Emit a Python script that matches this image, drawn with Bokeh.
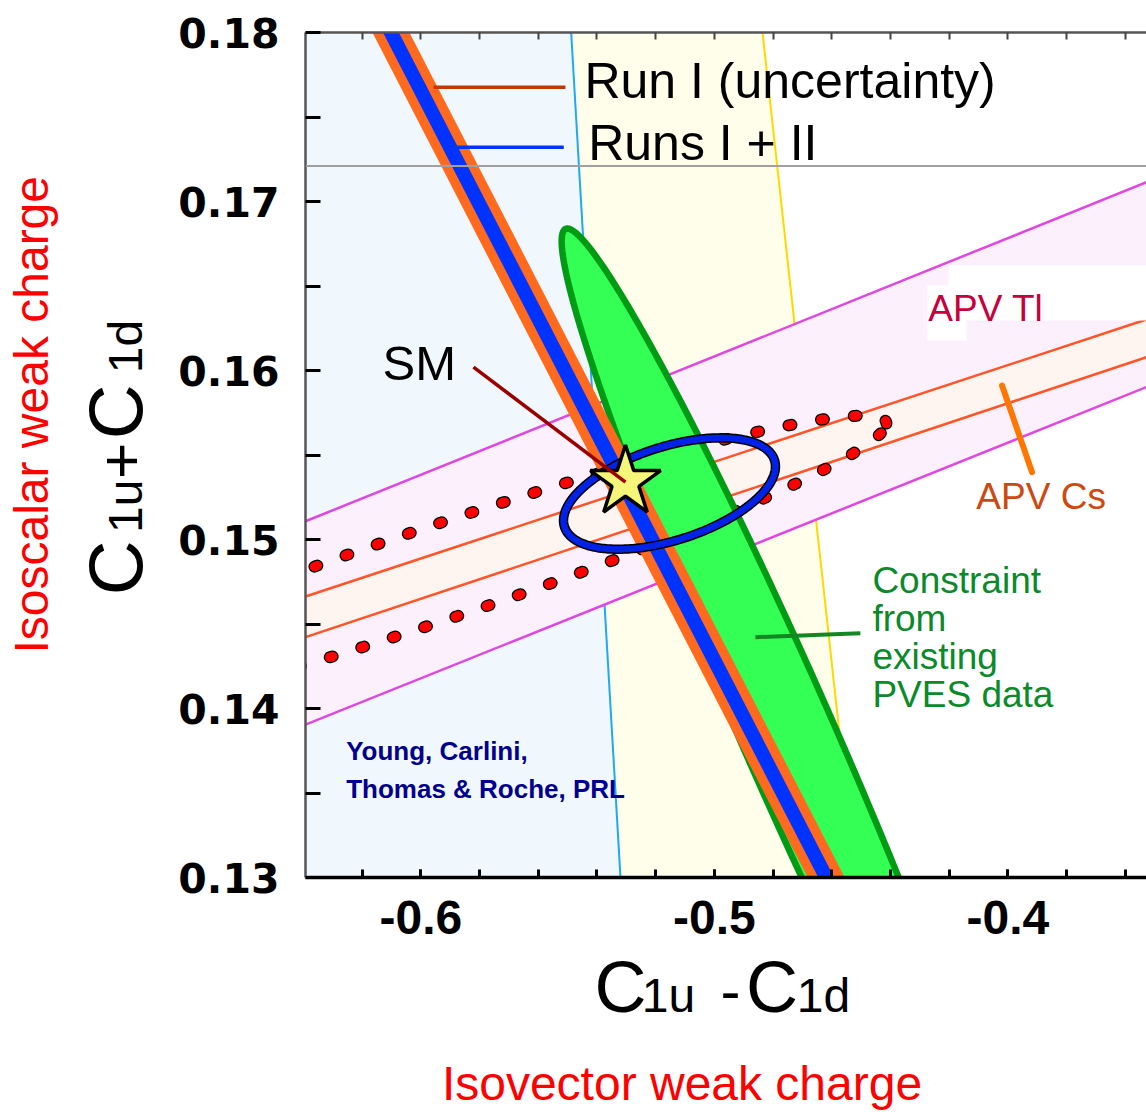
import numpy as np
from bokeh.plotting import figure
from bokeh.models import Range1d, FixedTicker, LinearAxis, Label, Span
from bokeh.layouts import column, row
from bokeh.embed import file_html
from bokeh.resources import INLINE

# ---------------- data ----------------
x_lo, x_hi = -0.6393, -0.3528
y_lo, y_hi = 0.13, 0.18

x_major = [-0.6, -0.5, -0.4]
x_major_labels = {-0.6: "-0.6", -0.5: "-0.5", -0.4: "-0.4"}
x_minor = [-0.62, -0.60, -0.58, -0.56, -0.54, -0.52, -0.50, -0.48, -0.46, -0.44, -0.42, -0.40, -0.38, -0.36]
y_major = [0.13, 0.14, 0.15, 0.16, 0.17, 0.18]
y_minor = [0.135, 0.145, 0.155, 0.165, 0.175]

# boundaries of shaded regions
cyan_x = [-0.5488, -0.5320]
cyan_y = [0.18, 0.13]
yellow_x = [-0.4836, -0.4520]
yellow_y = [0.18, 0.13]
gray_y = 0.1721

# APV bands (values at the left / right edge)
band_x = [-0.6393, -0.3528]
tl_upper = [0.15108, 0.17114]
tl_lower = [0.13905, 0.15902]
cs_upper = [0.14663, 0.16302]
cs_lower = [0.14422, 0.16079]

# Qweak bands (centre line and half widths in x)
qweak_x = [-0.6102, -0.4619]
qweak_y = [0.18, 0.13]
run1_half = 0.0063
run12_half = 0.0027

# ellipses: centre, conjugate semi-diameters
pves_center = (-0.4748, 0.1384)
pves_u = (-0.0753, 0.0300)
pves_v = (0.0172, 0.0)

comb_center = (-0.5153, 0.15272)
comb_u = (0.0361, 0.0016)
comb_v = (0.0, 0.00288)

apv_center = (-0.5947, 0.14798)
apv_u = (0.1533, 0.00888)
apv_v = (0.0, 0.00293)

# standard model point
sm_x, sm_y = -0.5303, 0.1534

PX_PER_Y = 16900.0  # screen pixels per y unit (for baseline nudges)


def ellipse_pts(c, u, v, n=240):
    t = np.linspace(0, 2 * np.pi, n)
    xs = c[0] + u[0] * np.cos(t) + v[0] * np.sin(t)
    ys = c[1] + u[1] * np.cos(t) + v[1] * np.sin(t)
    return xs, ys


MAIN_H = 947

# ---------------- main figure ----------------
p = figure(width=986, height=MAIN_H,
           x_range=Range1d(x_lo, x_hi), y_range=Range1d(y_lo, y_hi),
           output_backend="svg", toolbar_location=None,
           min_border_left=145, min_border_right=0,
           min_border_top=32, min_border_bottom=MAIN_H - 877)
p.xgrid.visible = False
p.ygrid.visible = False
p.outline_line_color = None
p.background_fill_color = "white"
p.border_fill_color = "white"

# background regions
p.patch([x_lo, cyan_x[0], cyan_x[1], x_lo], [y_hi, cyan_y[0], cyan_y[1], y_lo],
        fill_color="#F0F8FE", line_color=None)
p.patch([cyan_x[0], yellow_x[0], yellow_x[1], cyan_x[1]],
        [cyan_y[0], yellow_y[0], yellow_y[1], cyan_y[1]],
        fill_color="#FFFEEB", line_color=None)
p.line(cyan_x, cyan_y, line_color="#1EAAF0", line_width=2)
p.line(yellow_x, yellow_y, line_color="#FFD800", line_width=2)
p.add_layout(Span(location=gray_y, dimension="width", line_color="#A0A0A0", line_width=2))

# APV Tl band
p.patch(band_x + band_x[::-1], tl_upper + tl_lower[::-1], fill_color="#FDF0FD", line_color=None)
p.line(band_x, tl_upper, line_color="#E146E1", line_width=2.5)
p.line(band_x, tl_lower, line_color="#E146E1", line_width=2.5)
# APV Cs band
p.patch(band_x + band_x[::-1], cs_upper + cs_lower[::-1], fill_color="#FFF5F0", line_color=None)
p.line(band_x, cs_upper, line_color="#FF5528", line_width=2.5)
p.line(band_x, cs_lower, line_color="#FF5528", line_width=2.5)

# white box behind APV Tl label
p.quad(left=[-0.42029, -0.42745], right=[x_hi, -0.41416],
       top=[0.16621, 0.16503], bottom=[0.16296, 0.16178],
       fill_color="white", line_color=None)

# APV combined dotted ellipse
ax, ay = ellipse_pts(apv_center, apv_u, apv_v, 400)
p.line(ax, ay, line_color="black", line_width=12, line_dash="3 30", line_cap="round")
p.line(ax, ay, line_color="#FF0000", line_width=9.5, line_dash="3 30", line_cap="round")

# PVES ellipse
gx, gy = ellipse_pts(pves_center, pves_u, pves_v, 300)
p.patch(gx, gy, fill_color="#33FF55", line_color="#009B14", line_width=6.5)


# Qweak bands
def band(half):
    return ([qweak_x[0] - half, qweak_x[0] + half, qweak_x[1] + half, qweak_x[1] - half],
            [qweak_y[0], qweak_y[0], qweak_y[1], qweak_y[1]])


bx, by = band(run1_half)
p.patch(bx, by, fill_color="#FF6A1E", line_color=None)
bx, by = band(run12_half)
p.patch(bx, by, fill_color="#0033FF", line_color=None)

# combined ellipse
cx, cy = ellipse_pts(comb_center, comb_u, comb_v, 300)
p.line(cx, cy, line_color="black", line_width=9.5)
p.line(cx, cy, line_color="#0022E6", line_width=6.5)

# SM star and pointer
p.scatter([sm_x], [sm_y], marker="star", size=74, fill_color="#F5F57A",
          line_color="black", line_width=3.5)
p.line([-0.58208, sm_x], [0.160195, sm_y], line_color="#990000", line_width=3.5)

# legend lines
p.line([-0.59570, -0.55074], [0.176763, 0.176763], line_color="#C03A00", line_width=3.5)
p.line([-0.58763, -0.55132], [0.173213, 0.173213], line_color="#0033FF", line_width=3.5)

# pointers
p.line([-0.40201, -0.39179], [0.159112, 0.153982], line_color="#FF7700", line_width=6, line_cap="round")
p.line([-0.48603, -0.45027], [0.144219, 0.144456], line_color="#118822", line_width=4)


def txt(fig, x, y, text, size, color="black", font="Liberation Sans", style="normal",
        angle=0.0, align="left"):
    fig.add_layout(Label(x=x, y=y, text=text, text_font=font, text_font_size=f"{size}px",
                         text_font_style=style, text_color=color, angle=angle,
                         text_align=align, text_baseline="alphabetic"))


def mtxt(x, yb, text, size, **kw):
    # yb is the baseline in data units; nudge for the renderer's baseline offset
    txt(p, x, yb + 0.36 * size / PX_PER_Y, text, size, **kw)


mtxt(-0.54427, 0.176077, "Run I (uncertainty)", 50)
mtxt(-0.54301, 0.172426, "Runs I + II", 50)
mtxt(-0.61307, 0.159408, "SM", 49)
mtxt(-0.42711, 0.162858, "APV Tl", 37, color="#C8003C")
mtxt(-0.41076, 0.151757, "APV Cs", 37, color="#CC4A10")
for line, yb in zip(["Constraint", "from", "existing", "PVES data"],
                    [0.146787, 0.144527, 0.142278, 0.140059]):
    mtxt(-0.44618, yb, line, 37, color="#0A8A2A")
mtxt(-0.62544, 0.136923, "Young, Carlini,", 26, color="#00008C", style="bold")
mtxt(-0.62544, 0.134657, "Thomas & Roche, PRL", 26, color="#00008C", style="bold")

# ---------------- axes ----------------
xa = p.xaxis[0]
xa.ticker = FixedTicker(ticks=x_major, minor_ticks=x_minor)
xa.major_label_overrides = x_major_labels
xa.axis_line_color = "black"
xa.axis_line_width = 3.5
xa.major_tick_in = 8
xa.major_tick_out = 0
xa.minor_tick_in = 8
xa.minor_tick_out = 0
xa.major_tick_line_width = 3
xa.minor_tick_line_width = 3
xa.major_label_text_font = "Liberation Sans"
xa.major_label_text_font_style = "bold"
xa.major_label_text_font_size = "48px"
xa.major_label_text_color = "black"
xa.major_label_standoff = 23

ya = p.yaxis[0]
ya.ticker = FixedTicker(ticks=y_major, minor_ticks=y_minor)
ya.axis_line_color = "#555555"
ya.axis_line_width = 2.5
ya.major_tick_in = 15
ya.major_tick_out = 0
ya.minor_tick_in = 15
ya.minor_tick_out = 0
ya.major_tick_line_width = 3
ya.minor_tick_line_width = 3
ya.major_label_text_font = "DejaVu Sans"
ya.major_label_text_font_style = "bold"
ya.major_label_text_font_size = "41px"
ya.major_label_text_color = "black"
ya.major_label_standoff = 26

top = LinearAxis(ticker=FixedTicker(ticks=[], minor_ticks=x_minor),
                 axis_line_color="#555555", axis_line_width=2.5,
                 minor_tick_in=7, minor_tick_out=0, minor_tick_line_width=2,
                 minor_tick_line_color="#444444",
                 major_tick_in=0, major_tick_out=0)
p.add_layout(top, "above")


# ---------------- title panels (screen-pixel coordinates) ----------------
def panel(w, h):
    f = figure(width=w, height=h, x_range=Range1d(0, w), y_range=Range1d(h, 0),
               output_backend="svg", toolbar_location=None,
               x_axis_type=None, y_axis_type=None,
               min_border_left=0, min_border_right=0, min_border_top=0, min_border_bottom=0)
    f.outline_line_color = None
    f.xgrid.visible = False
    f.ygrid.visible = False
    f.background_fill_color = "white"
    f.border_fill_color = "white"
    return f


left = panel(160, MAIN_H)
ang = np.pi / 2


def ltxt(xb, yc, text, size, **kw):
    # xb: baseline (screen px), yc: centre along the reading direction (screen px)
    txt(left, xb - 0.35 * size, yc + 0.29 * size, text, size, angle=ang, align="center", **kw)


ltxt(142, 578, "C", 76)
ltxt(142, 517, "1u", 48)
ltxt(142, 462, "+", 62)
ltxt(142, 403, "C", 76)
ltxt(142, 338, "1d", 48)
ltxt(48, 414.5, "Isoscalar weak charge", 48, color="#FF0000")

bottom = panel(1146, 1112 - MAIN_H)


def btxt(xc, yb, text, size, **kw):
    # xc: centre (screen px), yb: baseline (screen px)
    txt(bottom, xc, yb - MAIN_H - 0.36 * size, text, size, align="center", **kw)


XB = 1012
btxt(620, XB, "C", 72)
btxt(668, XB, "1u", 48)
btxt(730, XB, "-", 60)
btxt(771.5, XB, "C", 72)
btxt(823, XB, "1d", 48)
btxt(681.5, 1100, "Isovector weak charge", 48, color="#FF0000")

layout = column(row(left, p), bottom)
open("out.html", "w").write(file_html(layout, INLINE))
